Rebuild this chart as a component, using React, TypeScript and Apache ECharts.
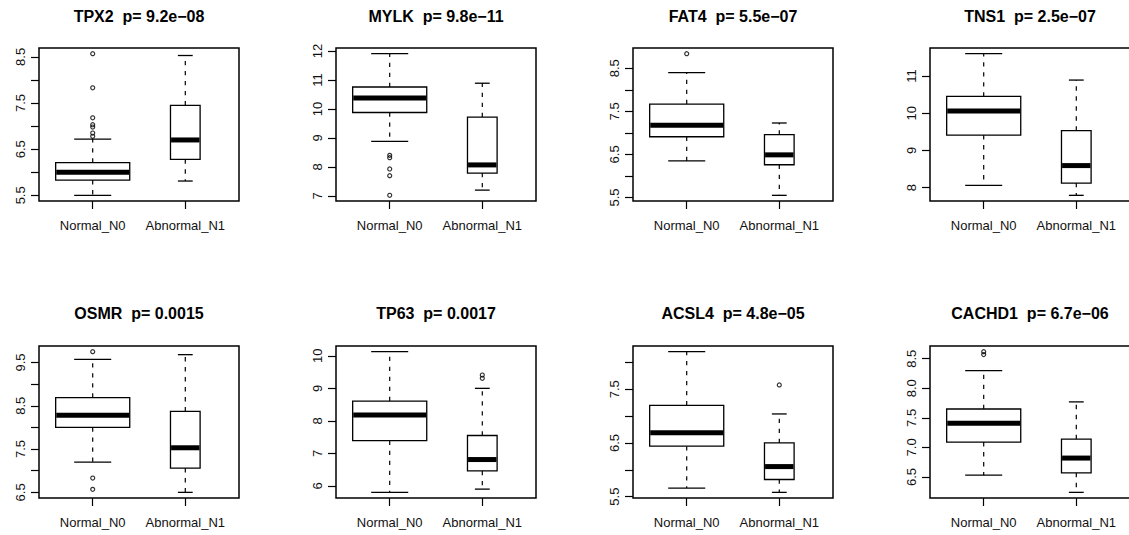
import React, { useEffect, useRef } from "react";
import * as echarts from "echarts";

const genes = ["TPX2", "MYLK", "FAT4", "TNS1", "OSMR", "TP63", "ACSL4", "CACHD1"];
const pValues = ["9.2e\u221208", "9.8e\u221211", "5.5e\u221207", "2.5e\u221207", "0.0015", "0.0017", "4.8e\u221205", "6.7e\u221206"];
const groups = ["Normal_N0", "Abnormal_N1"];
// relative box widths (varwidth boxplot)
const boxWidths = [0.8, 0.32];

// five-number summaries: [lower whisker, Q1, median, Q3, upper whisker]
const normalStats = [
  [5.5, 5.83, 6.0, 6.21, 6.72],
  [8.88, 9.88, 10.38, 10.76, 11.91],
  [6.35, 6.91, 7.18, 7.67, 8.4],
  [8.06, 9.41, 10.06, 10.45, 11.6],
  [7.2, 8.0, 8.28, 8.69, 9.57],
  [5.8, 7.39, 8.18, 8.61, 10.13],
  [5.66, 6.44, 6.69, 7.2, 8.2],
  [6.53, 7.09, 7.41, 7.65, 8.3],
];
const abnormalStats = [
  [5.81, 6.28, 6.7, 7.45, 8.53],
  [7.2, 7.79, 8.07, 9.72, 10.89],
  [5.55, 6.26, 6.49, 6.96, 7.23],
  [7.79, 8.12, 8.59, 9.53, 10.89],
  [6.5, 7.06, 7.53, 8.37, 9.68],
  [5.9, 6.46, 6.81, 7.55, 9.0],
  [5.58, 5.82, 6.06, 6.5, 7.04],
  [6.24, 6.57, 6.82, 7.14, 7.77],
];
const normalOutliers = [
  [8.57, 7.83, 7.18, 7.03, 6.98, 6.85, 6.78],
  [8.4, 8.32, 7.93, 7.7, 7.02],
  [8.84],
  [],
  [9.75, 6.83, 6.57],
  [],
  [],
  [8.62, 8.57],
];
const abnormalOutliers = [
  [],
  [],
  [],
  [],
  [],
  [9.41, 9.31],
  [7.58],
  [],
];
const yTicks = [
  [5.5, 6, 6.5, 7, 7.5, 8, 8.5],
  [7, 8, 9, 10, 11, 12],
  [5.5, 6, 6.5, 7, 7.5, 8, 8.5],
  [8, 9, 10, 11],
  [6.5, 7, 7.5, 8, 8.5, 9, 9.5],
  [6, 7, 8, 9, 10],
  [5.5, 6, 6.5, 7, 7.5, 8],
  [6.5, 7, 7.5, 8, 8.5],
];
const yLabels = [
  [5.5, 6.5, 7.5, 8.5],
  [7, 8, 9, 10, 11, 12],
  [5.5, 6.5, 7.5, 8.5],
  [8, 9, 10, 11],
  [6.5, 7.5, 8.5, 9.5],
  [6, 7, 8, 9, 10],
  [5.5, 6.5, 7.5],
  [6.5, 7, 7.5, 8, 8.5],
];

const FONT = '"Liberation Sans", Arial, Helvetica, sans-serif';
const colLefts = [39, 336, 633, 930];
const rowTops = [48, 346];
const rowHeights = [153, 152];
const titleYs = [16, 313.5];
const PW = 200;

function buildOption() {
  const grids: any[] = [];
  const xAxes: any[] = [];
  const yAxes: any[] = [];
  const series: any[] = [];
  const graphics: any[] = [];

  genes.forEach((gene, i) => {
    const col = i % 4;
    const row = Math.floor(i / 4);
    grids.push({
      left: colLefts[col],
      top: rowTops[row],
      width: PW,
      height: rowHeights[row],
      show: true,
      borderColor: "#000",
      borderWidth: 1.5,
      backgroundColor: "transparent",
      containLabel: false,
      outerBoundsMode: "none",
    });
    const all = [...normalStats[i], ...abnormalStats[i], ...normalOutliers[i], ...abnormalOutliers[i]];
    const lo = Math.min(...all);
    const hi = Math.max(...all);
    const ext = (hi - lo) * 0.04;
    const step = yTicks[i][1] - yTicks[i][0];
    xAxes.push({
      type: "value",
      gridIndex: i,
      min: 0.42,
      max: 2.58,
      axisLine: { show: false },
      splitLine: { show: false },
      axisTick: {
        show: true,
        customValues: [1, 2],
        length: 8,
        lineStyle: { color: "#000", width: 1.2 },
      },
      axisLabel: {
        show: true,
        customValues: [1, 2],
        margin: 18,
        fontSize: 13,
        fontFamily: FONT,
        color: "#111",
        formatter: (v: number) => groups[Math.round(v) - 1] || "",
      },
    });
    yAxes.push({
      type: "value",
      gridIndex: i,
      min: lo - ext,
      max: hi + ext,
      axisLine: { show: false },
      splitLine: { show: false },
      axisTick: {
        show: true,
        customValues: yTicks[i],
        length: 8,
        lineStyle: { color: "#000", width: 1.2 },
      },
      axisLabel: {
        show: true,
        customValues: yLabels[i],
        rotate: 90,
        margin: 12,
        fontSize: 13,
        fontFamily: FONT,
        color: "#111",
        formatter: (v: number) => (step < 1 ? v.toFixed(1) : String(Math.round(v))),
      },
    });
    series.push({
      type: "custom",
      xAxisIndex: i,
      yAxisIndex: i,
      clip: false,
      data: [
        [1, ...normalStats[i], boxWidths[0]],
        [2, ...abnormalStats[i], boxWidths[1]],
      ],
      renderItem: (params: any, api: any) => {
        const x = api.value(0);
        const vLo = api.value(1);
        const vQ1 = api.value(2);
        const vMed = api.value(3);
        const vQ3 = api.value(4);
        const vHi = api.value(5);
        const w = api.value(6);
        const half = api.size([w, 0])[0] / 2;
        const cap = half / 2;
        const cx = api.coord([x, vLo])[0];
        const yLo = api.coord([x, vLo])[1];
        const yQ1 = api.coord([x, vQ1])[1];
        const yMed = api.coord([x, vMed])[1];
        const yQ3 = api.coord([x, vQ3])[1];
        const yHi = api.coord([x, vHi])[1];
        const dashStyle = { stroke: "#000", lineWidth: 1.2, lineDash: [4.3, 5.7] };
        const solid = { stroke: "#000", lineWidth: 1.3 };
        return {
          type: "group",
          children: [
            { type: "line", shape: { x1: cx, y1: yQ3, x2: cx, y2: yHi }, style: dashStyle },
            { type: "line", shape: { x1: cx, y1: yQ1, x2: cx, y2: yLo }, style: dashStyle },
            { type: "line", shape: { x1: cx - cap, y1: yHi, x2: cx + cap, y2: yHi }, style: solid },
            { type: "line", shape: { x1: cx - cap, y1: yLo, x2: cx + cap, y2: yLo }, style: solid },
            {
              type: "rect",
              shape: { x: cx - half, y: yQ3, width: half * 2, height: yQ1 - yQ3 },
              style: { fill: "#fff", stroke: "#000", lineWidth: 1.3 },
            },
            {
              type: "line",
              shape: { x1: cx - half + 0.6, y1: yMed, x2: cx + half - 0.6, y2: yMed },
              style: { stroke: "#000", lineWidth: 5 },
            },
          ],
        };
      },
    });
    const outData = [
      ...normalOutliers[i].map((v) => [1, v]),
      ...abnormalOutliers[i].map((v) => [2, v]),
    ];
    series.push({
      type: "scatter",
      xAxisIndex: i,
      yAxisIndex: i,
      symbol: "circle",
      symbolSize: 4,
      itemStyle: { color: "rgba(0,0,0,0)", borderColor: "#000", borderWidth: 1.2 },
      data: outData,
      z: 5,
    });
    graphics.push({
      type: "text",
      x: colLefts[col] + PW / 2,
      y: titleYs[row],
      style: {
        text: `${gene}  p= ${pValues[i]}`,
        fill: "#000",
        font: `bold 16px ${FONT}`,
        textAlign: "center",
        textVerticalAlign: "middle",
      },
    });
  });

  return {
    animation: false,
    backgroundColor: "#fff",
    grid: grids,
    xAxis: xAxes,
    yAxis: yAxes,
    series,
    graphic: graphics,
  };
}

export default function App() {
  const ref = useRef<HTMLDivElement>(null);
  useEffect(() => {
    if (!ref.current) return;
    const chart = echarts.init(ref.current, undefined, { renderer: "svg" });
    chart.setOption(buildOption() as any);
    return () => chart.dispose();
  }, []);
  return (
    <div
      ref={ref}
      style={{ position: "absolute", left: 0, top: 0, width: 1129, height: 535, background: "#fff" }}
    />
  );
}
